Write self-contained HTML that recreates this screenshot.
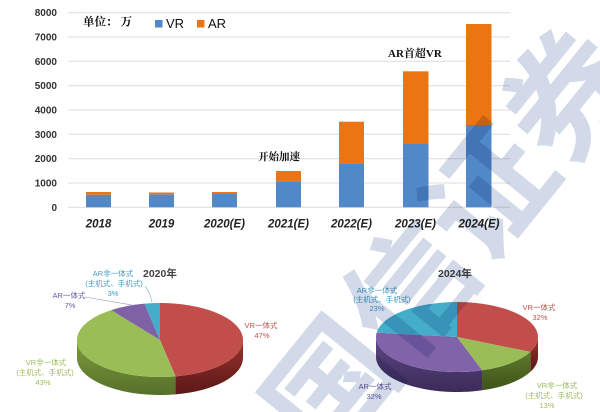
<!DOCTYPE html>
<html><head><meta charset="utf-8">
<style>
html,body{margin:0;padding:0;background:#fff;width:600px;height:412px;overflow:hidden;}
svg{display:block;overflow:hidden;}
.yl{font:bold 10px "Liberation Sans",sans-serif;fill:#333;text-anchor:end;}
.xl{font:italic bold 11.5px "Liberation Sans",sans-serif;fill:#222;text-anchor:middle;}
.cj{font-family:"Liberation Serif","Noto Serif CJK SC",serif;font-weight:bold;fill:#111;}
.pl{font-family:"Liberation Sans","Noto Sans CJK SC",sans-serif;font-size:7.5px;text-anchor:middle;}
.wm{font-family:"Noto Sans CJK SC",sans-serif;font-weight:bold;font-size:125px;fill:#d2d9e8;mix-blend-mode:multiply;}
</style></head>
<body>
<svg width="600" height="412" viewBox="0 0 600 412" xmlns="http://www.w3.org/2000/svg">
<defs>
<linearGradient id="rs" x1="0" y1="0" x2="0" y2="1"><stop offset="0" stop-color="#9a322f"/><stop offset="1" stop-color="#5a1816"/></linearGradient>
<linearGradient id="gs" x1="0" y1="0" x2="0" y2="1"><stop offset="0" stop-color="#7d9c3c"/><stop offset="1" stop-color="#56702a"/></linearGradient>
<linearGradient id="gs2" x1="0" y1="0" x2="0" y2="1"><stop offset="0" stop-color="#5f7a2c"/><stop offset="1" stop-color="#3e5218"/></linearGradient>
<linearGradient id="ps" x1="0" y1="0" x2="0" y2="1"><stop offset="0" stop-color="#5e4784"/><stop offset="1" stop-color="#3c2b5a"/></linearGradient>
</defs>

<!-- gridlines -->
<g stroke="#dcdcdc" stroke-width="1">
<line x1="68" x2="510" y1="12.7" y2="12.7"/>
<line x1="68" x2="510" y1="37" y2="37"/>
<line x1="68" x2="510" y1="61.3" y2="61.3"/>
<line x1="68" x2="510" y1="85.7" y2="85.7"/>
<line x1="68" x2="510" y1="110" y2="110"/>
<line x1="68" x2="510" y1="134.3" y2="134.3"/>
<line x1="68" x2="510" y1="158.7" y2="158.7"/>
<line x1="68" x2="510" y1="183" y2="183"/>
<line x1="68" x2="510" y1="207.3" y2="207.3"/>
</g>

<!-- y labels -->
<text class="yl" x="57" y="16.2">8000</text>
<text class="yl" x="57" y="40.5">7000</text>
<text class="yl" x="57" y="64.8">6000</text>
<text class="yl" x="57" y="89.2">5000</text>
<text class="yl" x="57" y="113.5">4000</text>
<text class="yl" x="57" y="137.8">3000</text>
<text class="yl" x="57" y="162.2">2000</text>
<text class="yl" x="57" y="186.5">1000</text>
<text class="yl" x="57" y="210.8">0</text>

<!-- bars -->
<g>
<rect x="86" y="194.7" width="25" height="12.6" fill="#5088c8"/><rect x="86" y="192" width="25" height="2.7" fill="#ec7412"/>
<rect x="149" y="194.3" width="25" height="13" fill="#5088c8"/><rect x="149" y="192.5" width="25" height="1.8" fill="#ec7412"/>
<rect x="212" y="194" width="25" height="13.3" fill="#5088c8"/><rect x="212" y="192" width="25" height="2" fill="#ec7412"/>
<rect x="276" y="181.3" width="25" height="26" fill="#5088c8"/><rect x="276" y="171" width="25" height="10.3" fill="#ec7412"/>
<rect x="339" y="163.3" width="25" height="44" fill="#5088c8"/><rect x="339" y="121.7" width="25" height="41.6" fill="#ec7412"/>
<rect x="403" y="144" width="25.5" height="63.3" fill="#5088c8"/><rect x="403" y="71.3" width="25.5" height="72.7" fill="#ec7412"/>
<rect x="466" y="125" width="25.5" height="82.3" fill="#5088c8"/><rect x="466" y="24" width="25.5" height="101" fill="#ec7412"/>
</g>

<!-- x labels -->
<text class="xl" x="98.5" y="227.5">2018</text>
<text class="xl" x="161.5" y="227.5">2019</text>
<text class="xl" x="224.5" y="227.5">2020(E)</text>
<text class="xl" x="288.5" y="227.5">2021(E)</text>
<text class="xl" x="351.5" y="227.5">2022(E)</text>
<text class="xl" x="415.5" y="227.5">2023(E)</text>
<text class="xl" x="479" y="227.5">2024(E)</text>

<!-- legend & annotations -->
<text class="cj" x="83" y="25.5" font-size="11.5">单位：<tspan dx="3">万</tspan></text>
<rect x="155" y="20" width="7.5" height="7.5" fill="#5088c8"/>
<text x="166" y="28" font-family="Liberation Sans,sans-serif" font-size="13" fill="#111">VR</text>
<rect x="197" y="20" width="7.5" height="7.5" fill="#ec7412"/>
<text x="208" y="28" font-family="Liberation Sans,sans-serif" font-size="13" fill="#111">AR</text>
<text class="cj" x="258" y="160" font-size="10.5">开始加速</text>
<text class="cj" x="388" y="57" font-size="11">AR首超VR</text>

<!-- 2020 pie -->
<g>
<path d="M243,340 A83,37 0 0 1 175.55,376.35 L175.55,394.35 A83,37 0 0 0 243,358 Z" fill="url(#rs)"/>
<path d="M175.55,376.35 A83,37 0 0 1 77,340 L77,358 A83,37 0 0 0 175.55,394.35 Z" fill="url(#gs)"/>
<path d="M160,340 L160,303 A83,37 0 0 1 175.55,376.35 Z" fill="#c24e4b"/>
<path d="M160,340 L175.55,376.35 A83,37 0 0 1 111.21,310.07 Z" fill="#9bbd57"/>
<path d="M160,340 L111.21,310.07 A83,37 0 0 1 144.45,303.65 Z" fill="#7f62a6"/>
<path d="M160,340 L144.45,303.65 A83,37 0 0 1 160,303 Z" fill="#45acc9"/>
</g>
<text x="143" y="277" font-family="Liberation Sans,'Noto Sans CJK SC',sans-serif" font-weight="bold" font-size="10.5" fill="#444">2020年</text>
<g class="pl" fill="#3f9cc4">
<text x="113" y="276">AR非一体式</text>
<text x="114" y="286">(主机式、手机式)</text>
<text x="113" y="296">3%</text>
</g>
<g class="pl" fill="#6a58a0">
<text x="69" y="298">AR一体式</text>
<text x="70" y="308">7%</text>
</g>
<g class="pl" fill="#c0504d">
<text x="261" y="328">VR一体式</text>
<text x="262" y="338">47%</text>
</g>
<g class="pl" fill="#9bbb59">
<text x="46" y="365">VR非一体式</text>
<text x="45" y="375">(主机式、手机式)</text>
<text x="43" y="385">43%</text>
</g>
<path d="M145,286 Q150,292 152,302" stroke="#7fb8d6" stroke-width="0.6" fill="none"/>
<path d="M85,297 L132,305" stroke="#9a90c0" stroke-width="0.6" fill="none"/>

<!-- 2024 pie -->
<g>
<path d="M538,337 A81,35 0 0 1 530.29,351.9 L530.29,371.9 A81,35 0 0 0 538,357 Z" fill="url(#rs)"/>
<path d="M530.29,351.9 A81,35 0 0 1 482.03,370.29 L482.03,390.29 A81,35 0 0 0 530.29,371.9 Z" fill="url(#gs2)"/>
<path d="M482.03,370.29 A81,35 0 0 1 376,337 L376,357 A81,35 0 0 0 482.03,390.29 Z" fill="url(#ps)"/>
<path d="M457,337 L457,302 A81,35 0 0 1 530.29,351.9 Z" fill="#c24e4b"/>
<path d="M457,337 L530.29,351.9 A81,35 0 0 1 482.03,370.29 Z" fill="#9bbd57"/>
<path d="M457,337 L482.03,370.29 A81,35 0 0 1 376.64,332.61 Z" fill="#8063a8"/>
<path d="M457,337 L376.64,332.61 A81,35 0 0 1 457,302 Z" fill="#45acc9"/>
</g>
<text x="438" y="277" font-family="Liberation Sans,'Noto Sans CJK SC',sans-serif" font-weight="bold" font-size="10.5" fill="#444">2024年</text>
<g class="pl" fill="#3f9cc4">
<text x="377" y="293">AR非一体式</text>
<text x="382" y="302">(主机式、手机式)</text>
<text x="377" y="311">23%</text>
</g>
<g class="pl" fill="#c0504d">
<text x="539" y="310">VR一体式</text>
<text x="540" y="320">32%</text>
</g>
<g class="pl" fill="#6a58a0">
<text x="375" y="389">AR一体式</text>
<text x="374" y="399">32%</text>
</g>
<g class="pl" fill="#9bbb59">
<text x="557" y="388">VR非一体式</text>
<text x="554" y="398">(主机式、手机式)</text>
<text x="547" y="408">13%</text>
</g>

<!-- watermark -->
<text class="wm" transform="translate(330,385) rotate(-51)" x="-62.5" y="47.5">国信证券</text>
</svg>
</body></html>
